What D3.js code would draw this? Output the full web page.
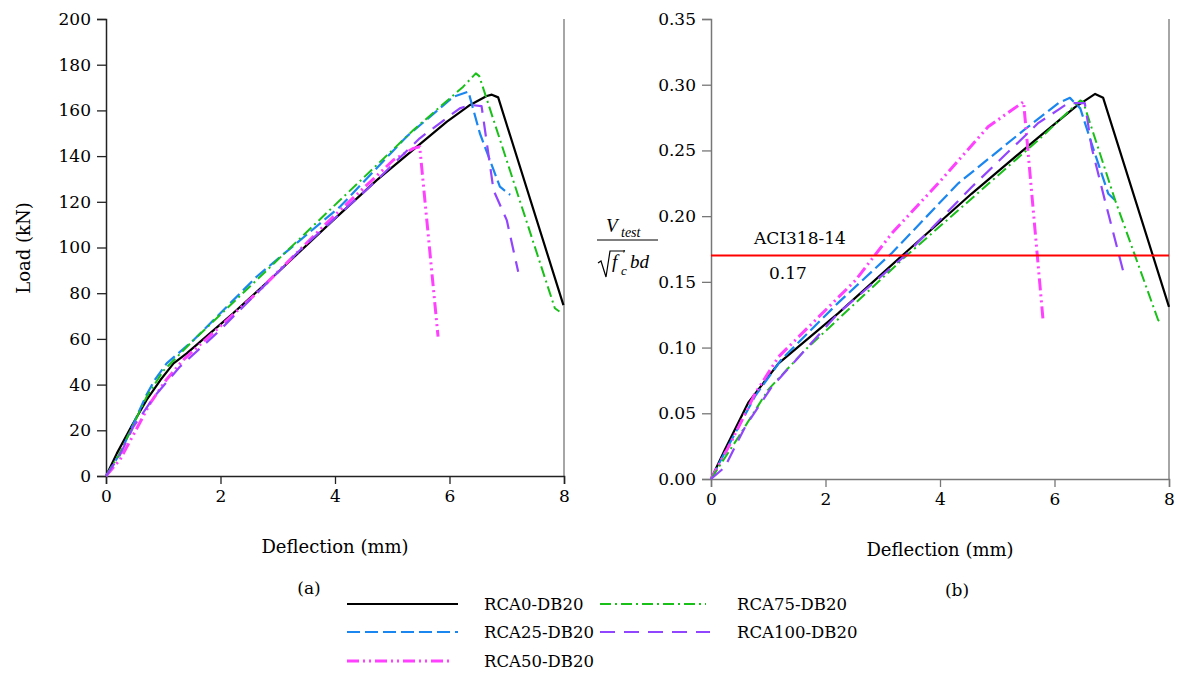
<!DOCTYPE html>
<html>
<head>
<meta charset="utf-8">
<script src="https://cdn.jsdelivr.net/npm/d3@7"></script>
<style>
body { margin: 0; background: #fff; }
text { font-family: "DejaVu Serif", serif; fill: #000; }
</style>
</head>
<body>
<svg id="chart" width="1179" height="673"></svg>
<script>
// series names, in legend order
var seriesNames = ['RCA0-DB20', 'RCA25-DB20', 'RCA50-DB20', 'RCA75-DB20', 'RCA100-DB20'];

// (a) load vs deflection  [deflection mm, load kN]
var rca0Load = [[0,0],[0.19,9.9],[0.45,22],[0.71,33.3],[0.95,42],[1.18,49.3],[1.41,53.7],[2.22,71.2],[2.92,87.2],[3.97,112],[4.73,129.5],[5.95,155],[6.36,162.4],[6.65,166.3],[6.74,166.9],[6.85,165.7],[7.99,74.8]];
var rca25Load = [[0,0],[0.25,10],[0.5,24],[0.71,35.7],[0.85,42],[1.06,49.3],[1.53,59.5],[2.63,87.2],[4.09,117.9],[5.25,148.5],[6.07,166],[6.33,168.2],[6.53,150],[6.88,126.6],[7.06,123]];
var rca50Load = [[0,0],[0.24,7],[0.5,19],[0.77,31.8],[1.05,42],[1.35,50.8],[2.63,80],[3.85,110.6],[5.02,138.3],[5.37,143.4],[5.48,144.1],[5.8,61]];
var rca75Load = [[0,0],[0.22,9],[0.45,21],[0.71,34.7],[1.0,46],[1.47,58],[2.57,84.3],[3.97,117.9],[5.37,151.4],[6.24,170.4],[6.46,176.2],[6.52,175],[7.84,73.4],[7.92,72]];
var rca100Load = [[0,0],[0.24,9],[0.48,21.6],[0.85,35],[1.29,47.8],[1.93,62.4],[3.39,98.9],[4.67,128],[5.48,147.8],[6.18,160.9],[6.36,162.4],[6.56,161.9],[6.77,125],[7.0,112],[7.2,89.4]];

// (b) normalised shear vs deflection
var rca0Ratio = [[0,0],[0.24,0.022],[0.65,0.058],[1.18,0.088],[2.22,0.126],[3.39,0.172],[4.55,0.217],[5.72,0.26],[6.36,0.283],[6.71,0.293],[6.85,0.29],[8.0,0.131]];
var rca25Ratio = [[0,0],[0.3,0.025],[0.77,0.063],[1.23,0.091],[2.22,0.134],[3.16,0.172],[4.32,0.225],[5.48,0.266],[6.07,0.286],[6.27,0.29],[6.45,0.282],[6.65,0.255],[6.94,0.217],[7.06,0.212]];
var rca50Ratio = [[0,0],[0.35,0.028],[0.77,0.065],[1.18,0.093],[2.52,0.151],[3.16,0.187],[3.97,0.225],[4.84,0.268],[5.46,0.287],[5.8,0.121]];
var rca75Ratio = [[0,0],[0.48,0.032],[1.0,0.068],[1.64,0.098],[3.39,0.169],[5.72,0.258],[6.45,0.288],[6.5,0.287],[7.06,0.212],[7.81,0.121],[7.86,0.119]];
var rca100Ratio = [[0,0],[0.24,0.009],[0.6,0.04],[1.06,0.07],[2.22,0.126],[3.39,0.17],[4.55,0.222],[5.72,0.271],[6.07,0.281],[6.24,0.286],[6.53,0.286],[6.65,0.252],[6.88,0.212],[7.2,0.158]];

var xTicks = [0, 2, 4, 6, 8];
var loadTicks = [0, 20, 40, 60, 80, 100, 120, 140, 160, 180, 200];
var ratioTicks = [0, 0.05, 0.10, 0.15, 0.20, 0.25, 0.30, 0.35];
var aciLimit = 0.17;

var styles = [
	{color: '#000000', dash: null, width: 2.2},
	{color: '#1a86f0', dash: '13,5', width: 2.2},
	{color: '#ff40ff', dash: '12,4,2,4,2,4', width: 3},
	{color: '#18c018', dash: '11,4,2,4', width: 2},
	{color: '#9245ff', dash: '15,9', width: 2.2}
];

var svg = d3.select('#chart');

function panel(x0, x1, yBottom, yTop, yMax, yTicks, yFmt, series, axisColor) {
	var sx = d3.scaleLinear().domain([0, 8]).range([x0, x1]);
	var sy = d3.scaleLinear().domain([0, yMax]).range([yBottom, yTop]);
	var g = svg.append('g');

	// right frame
	g.append('line').attr('x1', x1).attr('x2', x1).attr('y1', yTop).attr('y2', yBottom)
		.attr('stroke', '#888').attr('stroke-width', 1.5);

	var ax = g.append('g').attr('transform', 'translate(0,' + yBottom + ')')
		.call(d3.axisBottom(sx).tickValues(xTicks).tickSize(8).tickPadding(6).tickFormat(d3.format('d')));
	var ay = g.append('g').attr('transform', 'translate(' + x0 + ',0)')
		.call(d3.axisLeft(sy).tickValues(yTicks).tickSize(9).tickPadding(6).tickFormat(yFmt));
	[ax, ay].forEach(function(a) {
		a.select('.domain').attr('stroke', axisColor).attr('stroke-width', 1.5);
		a.selectAll('.tick line').attr('stroke', axisColor).attr('stroke-width', 1.3);
		a.selectAll('.tick text').attr('fill', '#000').style('font-size', '17px').style('font-family', 'DejaVu Serif');
	});

	var line = d3.line().x(d => sx(d[0])).y(d => sy(d[1]));
	series.forEach(function(s, i) {
		g.append('path').datum(s)
			.attr('d', line)
			.attr('fill', 'none')
			.attr('stroke', styles[i].color)
			.attr('stroke-width', styles[i].width)
			.attr('stroke-dasharray', styles[i].dash)
			.attr('stroke-linejoin', 'round');
	});
	return {sx: sx, sy: sy, g: g};
}

var pa = panel(106, 564, 476, 19, 200, loadTicks, d3.format('d'),
	[rca0Load, rca25Load, rca50Load, rca75Load, rca100Load], '#222');
var pb = panel(711, 1169, 479, 19, 0.35, ratioTicks, d3.format('.2f'),
	[rca0Ratio, rca25Ratio, rca50Ratio, rca75Ratio, rca100Ratio], '#777');

// ACI limit line
pb.g.append('line')
	.attr('x1', pb.sx(0)).attr('x2', pb.sx(8))
	.attr('y1', pb.sy(aciLimit)).attr('y2', pb.sy(aciLimit))
	.attr('stroke', '#ff0000').attr('stroke-width', 2);
pb.g.append('text').attr('x', 754).attr('y', pb.sy(aciLimit) - 12)
	.style('font-size', '17px').text('ACI318-14');
pb.g.append('text').attr('x', 769).attr('y', pb.sy(aciLimit) + 23)
	.style('font-size', '17px').text(d3.format('.2f')(aciLimit));

// axis titles
svg.append('text').attr('transform', 'translate(30,248) rotate(-90)')
	.attr('text-anchor', 'middle').style('font-size', '18px').text('Load (kN)');
svg.append('text').attr('x', 335).attr('y', 553)
	.attr('text-anchor', 'middle').style('font-size', '18px').text('Deflection (mm)');
svg.append('text').attr('x', 940).attr('y', 556)
	.attr('text-anchor', 'middle').style('font-size', '18px').text('Deflection (mm)');
svg.append('text').attr('x', 309).attr('y', 594)
	.attr('text-anchor', 'middle').style('font-size', '17px').text('(a)');
svg.append('text').attr('x', 957).attr('y', 596)
	.attr('text-anchor', 'middle').style('font-size', '17px').text('(b)');

// y title of (b): V_test / (sqrt(f'_c) b d)
var fy = svg.append('g');
function ftext(x, y, size, s) {
	fy.append('text').attr('x', x).attr('y', y)
		.style('font-size', size + 'px').style('font-family', 'Liberation Serif').style('font-style', 'italic')
		.text(s);
}
ftext(606, 232, 19, 'V');
ftext(621, 237, 14, 'test');
fy.append('line').attr('x1', 597).attr('x2', 658).attr('y1', 240).attr('y2', 240).attr('stroke', '#000').attr('stroke-width', 1);
fy.append('path').attr('d', 'M598,263 L601,261 L606,277 L610,251 L625,251')
	.attr('fill', 'none').attr('stroke', '#000').attr('stroke-width', 1.2);
ftext(612, 268, 19, 'f');
ftext(622, 258, 12, "'");
ftext(621, 275, 13, 'c');
ftext(630, 268, 19, 'bd');

// legend
var legendPos = [
	{x: 347, y: 604, tx: 484}, {x: 347, y: 632, tx: 484}, {x: 347, y: 661, tx: 484},
	{x: 600, y: 604, tx: 737}, {x: 600, y: 632, tx: 737}
];
var legendLen = [111, 111, 105, 106, 110];
var lg = svg.append('g');
seriesNames.forEach(function(name, i) {
	var p = legendPos[i];
	lg.append('line').attr('x1', p.x).attr('x2', p.x + legendLen[i]).attr('y1', p.y).attr('y2', p.y)
		.attr('stroke', styles[i].color).attr('stroke-width', styles[i].width)
		.attr('stroke-dasharray', styles[i].dash);
	lg.append('text').attr('x', p.tx).attr('y', p.y + 6).style('font-size', '16.5px').text(name);
});
</script>
</body>
</html>
